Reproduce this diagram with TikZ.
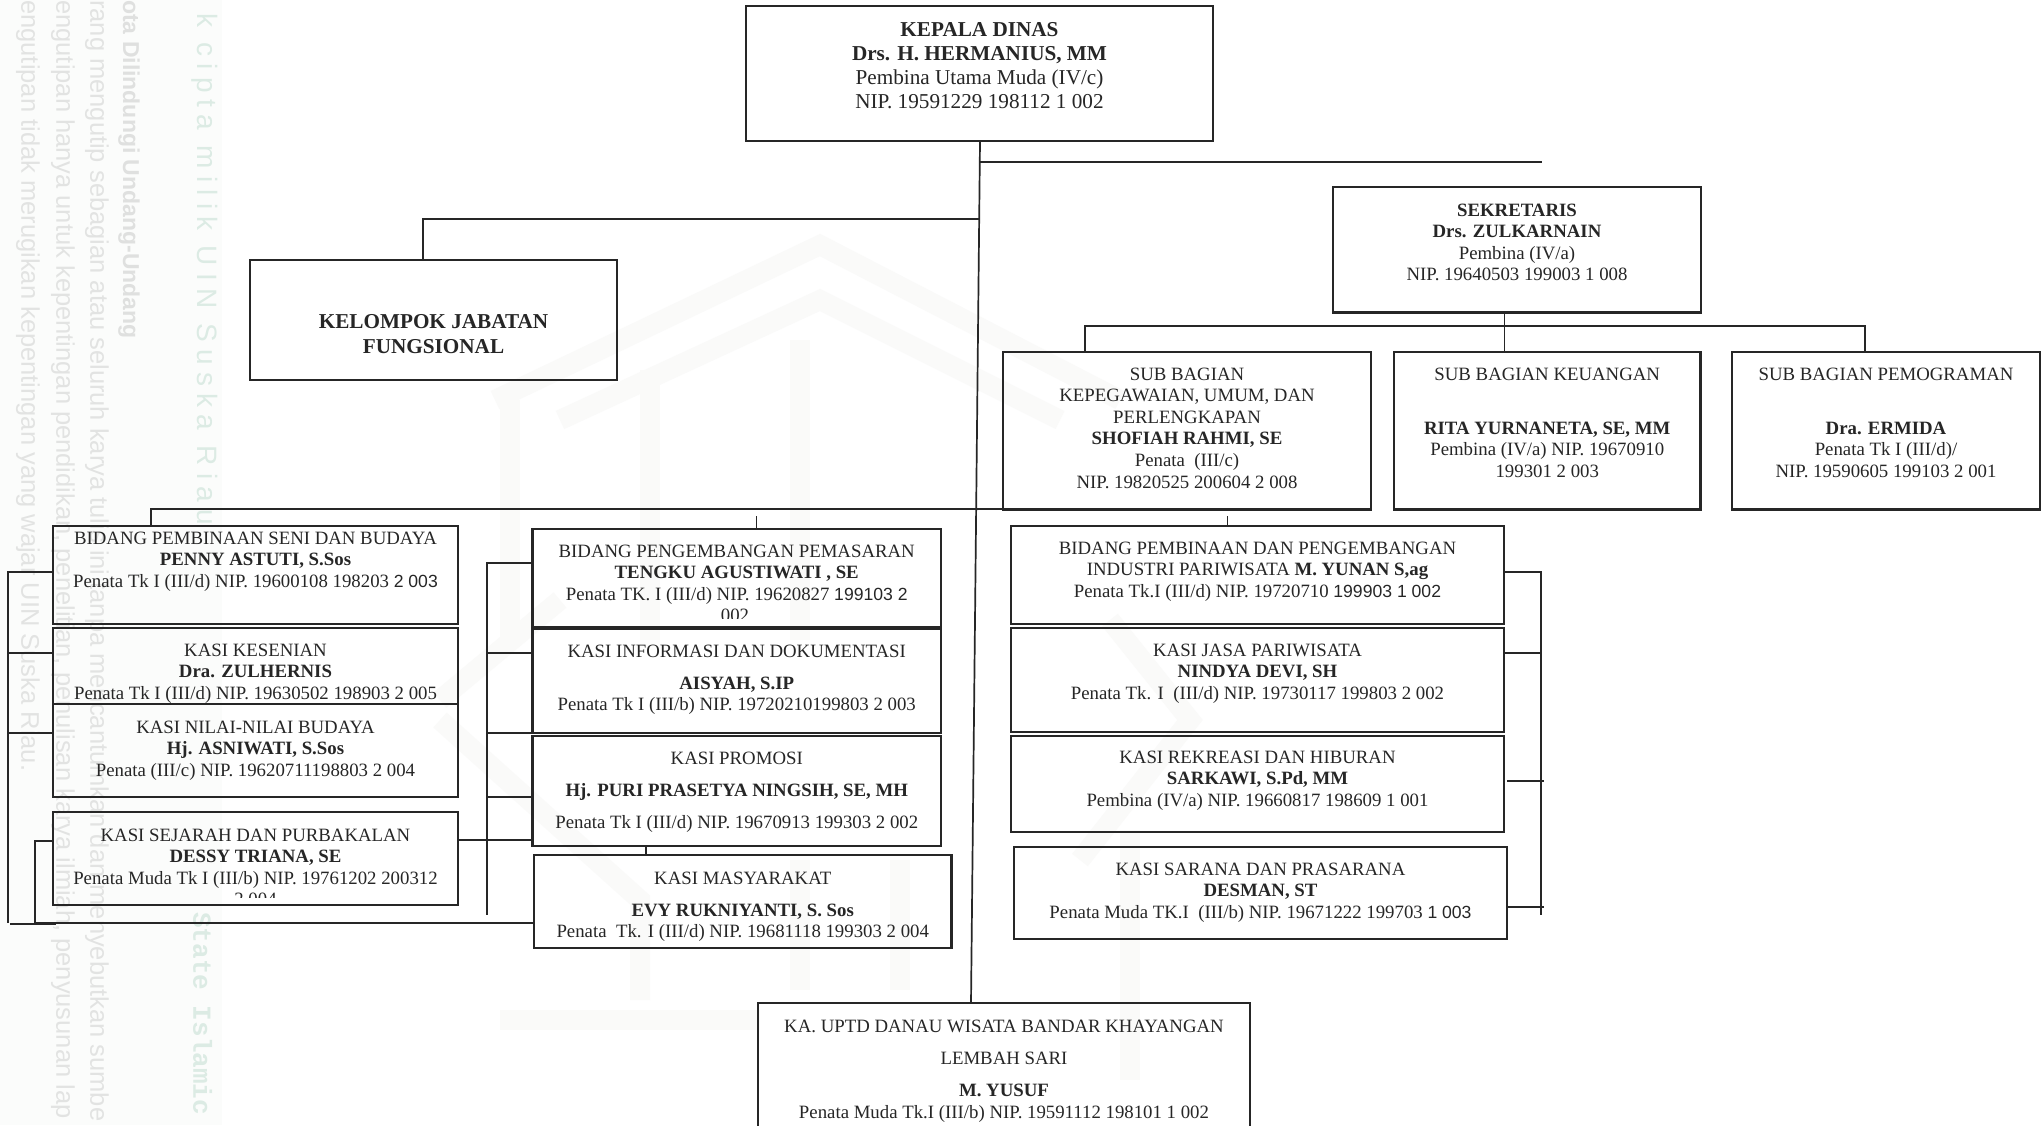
\documentclass[tikz,border=0pt]{standalone}
\usepackage{fontspec}
\setmainfont{Liberation Serif}
\newfontfamily\arn{Liberation Sans}
\newfontfamily\ar{Liberation Sans}
\newfontfamily\arls[LetterSpace=26]{Liberation Sans}
\newfontfamily\monols{Liberation Mono}
\definecolor{ink}{HTML}{262626}
\definecolor{wmg}{HTML}{E2E3E2}
\definecolor{wmb}{HTML}{DFE0DF}
\definecolor{wmt}{HTML}{DCEBE4}
\definecolor{strip}{HTML}{FBFCFB}
\definecolor{logo}{HTML}{FAFAF9}
\newcommand{\Ar}[1]{\begingroup\fontsize{17.6}{21.5}\arn #1\endgroup}
\tikzset{
  orgbox/.style={draw=ink,line width=2.1pt,fill=none,inner sep=0pt,outer sep=0pt,anchor=north west,text=ink},
  link/.style={draw=ink,line width=1.7pt},
  fatlink/.style={draw=ink,line width=2.6pt},
  wm/.style={rotate=-90,anchor=south west,inner sep=0pt,text=wmg},
}
% name x1 y1 x2 y2 baseline-of-first-line font-size linespacing text
\newcommand{\bx}[9]{%
  \pgfmathsetlengthmacro{\bxw}{(#4-#2)*1pt}%
  \pgfmathsetlengthmacro{\bxh}{(#5-#3)*1pt}%
  \pgfmathsetlengthmacro{\bxp}{(#6-#3-14)*1pt}%
  \node[orgbox,minimum width=\bxw,minimum height=\bxh] (#1) at (#2,#3)
    {\parbox[t][\bxh][t]{\bxw}{\fontsize{#7}{#8}\selectfont\vspace*{\bxp}\centering\rule{0pt}{14pt}#9\par}};}
\begin{document}
\begin{tikzpicture}[x=1pt,y=-1pt]
\useasboundingbox (0,0) rectangle (2042,1125);
\fill[white] (0,0) rectangle (2042,1125);
\fill[strip] (0,0) rectangle (222,1125);
% faint logo
\begin{scope}[line width=20pt,draw=logo,line join=miter]
\draw (495,400) -- (820,245) -- (1120,400);
\draw (560,420) -- (820,300) -- (1060,420);
\draw (510,400) -- (510,640);
\draw (650,370) -- (650,640);
\draw (800,340) -- (800,640);
\draw (440,700) -- (560,600);
\draw (440,720) -- (640,900) -- (640,1000);
\draw (1110,620) -- (1190,720) -- (1080,860);
\draw (800,860) -- (800,990);
\draw (900,860) -- (900,990);
\draw (1130,830) -- (1130,1080);
\draw (500,1020) -- (760,1020);
\end{scope}
% watermark
\node[wm,font=\ar\fontsize{25.5}{27}\selectfont] (wa) at (16,0) {engutipan tidak merugikan kepentingan yang wajar UIN Suska Riau.};
\node[wm,font=\ar\fontsize{25.5}{27}\selectfont] (wb) at (51,0) {engutipan hanya untuk kepentingan pendidikan, penelitian, penulisan karya ilmiah, penyusunan lap};
\node[wm,font=\ar\fontsize{25.5}{27}\selectfont] (wc) at (85,0) {rang mengutip sebagian atau seluruh karya tulis ini tanpa mencantumkan dan menyebutkan sumbe};
\node[wm,font=\ar\bfseries\fontsize{23}{25}\selectfont,text=wmb] (wd) at (118,0) {ota Dilindungi Undang-Undang};
\node[wm,font=\arls\fontsize{28}{30}\selectfont,text=wmt] (we) at (191,13) {k cipta milik UIN Suska Riau};
\node[wm,font=\monols\bfseries\fontsize{26}{30}\selectfont,text=wmt] (wf) at (193,912) {State Islamic};
% boxes
\bx{kepala}{746}{6}{1213}{141}{36}{21.2}{24.3}{\textbf{KEPALA DINAS}\\\textbf{Drs. H. HERMANIUS, MM}\\Pembina Utama Muda (IV/c)\\NIP. 19591229 198112 1 002}
\bx{sekre}{1333}{187}{1701}{312.5}{216}{18.8}{21.6}{\textbf{SEKRETARIS}\\\textbf{Drs. ZULKARNAIN}\\Pembina (IV/a)\\NIP. 19640503 199003 1 008}
\bx{fung}{250}{260}{617}{380}{328}{21.2}{25}{\textbf{KELOMPOK JABATAN}\\\textbf{FUNGSIONAL}}
\bx{kepeg}{1003}{352}{1371}{509.5}{380}{18.8}{21.6}{SUB BAGIAN\\KEPEGAWAIAN, UMUM, DAN\\PERLENGKAPAN\\\textbf{SHOFIAH RAHMI, SE}\\Penata~ (III/c)\\NIP. 19820525 200604 2 008}
\bx{keu}{1394}{352}{1700.5}{509.5}{380}{18.8}{21.6}{SUB BAGIAN KEUANGAN\\[32.4pt]\textbf{RITA YURNANETA, SE, MM}\\Pembina (IV/a) NIP. 19670910\\199301 2 003}
\bx{pem}{1732}{352}{2040}{509.5}{380}{18.8}{21.6}{SUB BAGIAN PEMOGRAMAN\\[32.4pt]\textbf{Dra. ERMIDA}\\Penata Tk I (III/d)/\\NIP. 19590605 199103 2 001}
\bx{ba}{53}{526}{458}{624}{544}{18.8}{21.5}{BIDANG PEMBINAAN SENI DAN BUDAYA\\\textbf{PENNY ASTUTI, S.Sos}\\Penata Tk I (III/d) NIP. 19600108 198203 \Ar{2 003}}
\bx{bb}{53}{628}{458}{704}{656}{18.8}{21.5}{KASI KESENIAN\\\textbf{Dra. ZULHERNIS}\\Penata Tk I (III/d) NIP. 19630502 198903 2 005}
\bx{bc}{53}{704}{458}{797}{733}{18.8}{21.5}{KASI NILAI-NILAI BUDAYA\\\textbf{Hj. ASNIWATI, S.Sos}\\Penata (III/c) NIP. 19620711198803 2 004}
\bx{bd}{53}{812}{458}{905}{841}{18.8}{21.5}{KASI SEJARAH DAN PURBAKALAN\\\textbf{DESSY TRIANA, SE}\\Penata Muda Tk I (III/b) NIP. 19761202 200312}
\bx{ma}{532.5}{529}{941}{627}{557}{18.8}{21.5}{BIDANG PENGEMBANGAN PEMASARAN\\\textbf{TENGKU AGUSTIWATI , SE}\\Penata TK. I (III/d) NIP. 19620827 \Ar{199103 2}}
\bx{mb}{532.5}{629}{941}{733}{657}{18.8}{21.5}{KASI INFORMASI DAN DOKUMENTASI\\[10.5pt]\textbf{AISYAH, S.IP}\\Penata Tk I (III/b) NIP. 19720210199803 2 003}
\bx{mc}{532.5}{736}{941}{846}{764}{18.8}{21.5}{KASI PROMOSI\\[10.5pt]\textbf{Hj. PURI PRASETYA NINGSIH, SE, MH}\\[10.5pt]Penata Tk I (III/d) NIP. 19670913 199303 2 002}
\bx{md}{534}{855}{951.5}{948}{884}{18.8}{21.5}{KASI MASYARAKAT\\[10.5pt]\textbf{EVY RUKNIYANTI, S. Sos}\\Penata~ Tk. I (III/d) NIP. 19681118 199303 2 004}
\bx{ra}{1011}{526}{1504}{624}{554}{18.8}{21.5}{BIDANG PEMBINAAN DAN PENGEMBANGAN\\INDUSTRI PARIWISATA \textbf{M. YUNAN S,ag}\\Penata Tk.I (III/d) NIP. 19720710 \Ar{199903 1 002}}
\bx{rb}{1011}{628}{1504}{732}{656}{18.8}{21.5}{KASI JASA PARIWISATA\\\textbf{NINDYA DEVI, SH}\\Penata Tk. I~ (III/d) NIP. 19730117 199803 2 002}
\bx{rc}{1011}{736}{1504}{832}{763}{18.8}{21.5}{KASI REKREASI DAN HIBURAN\\\textbf{SARKAWI, S.Pd, MM}\\Pembina (IV/a) NIP. 19660817 198609 1 001}
\bx{rd}{1014}{847}{1507}{939}{875}{18.8}{21.5}{KASI SARANA DAN PRASARANA\\\textbf{DESMAN, ST}\\Penata Muda TK.I~ (III/b) NIP. 19671222 199703 \Ar{1 003}}
\bx{uptd}{758}{1003}{1250}{1135}{1032}{18.8}{32}{KA. UPTD DANAU WISATA BANDAR KHAYANGAN\\LEMBAH SARI\\\textbf{M. YUSUF}\\[-10pt]Penata Muda Tk.I (III/b) NIP. 19591112 198101 1 002}
% clipped last lines
\begin{scope}
\clip (53,885) rectangle (458,897);
\node[inner sep=0pt,anchor=base,text=ink,font=\fontsize{18.8}{21.5}\selectfont] (bdx) at (255.5,905) {2 004};
\end{scope}
\begin{scope}
\clip (533,600) rectangle (941,618);
\node[inner sep=0pt,anchor=base,text=ink,font=\fontsize{18.8}{21.5}\selectfont] (max) at (735,621) {002};
\end{scope}
% coordinates
\coordinate (topA) at (980,141);
\coordinate (mainB) at (971,1003);
\coordinate (j1) at (980,162);
\coordinate (j1e) at (1542,162);
\coordinate (j2) at (979.5,219);
\coordinate (j2e) at (423,219);
% main connectors
\draw[link] (topA) -- (mainB);
\draw[link] (j1) -- (j1e);
\draw[link] (j2) -- (j2e) -- (j2e |- fung.north);
\draw[link] (1504.5,312.5) -- (1504.5,352);
\draw[link] (1085,352) -- (1085,326) -- (1865,326) -- (1865,352);
% bidang bus
\draw[link] (151,526) -- (151,509) -- (1003,509);
\draw[link,line width=1pt] (756,516) -- (756,529);
\draw[link,line width=1pt] (1227,516) -- (1227,526);
% left bracket
\draw[link] (53,572) -- (8,572) -- (8,923);
\draw[link] (8,653) -- (53,653);
\draw[link] (8,733) -- (53,733);
\draw[link] (10,924) -- (56,924);
\draw[fatlink] (53,841) -- (35,841) -- (35,923) -- (md.west |- 0,923);
% middle bracket
\draw[link] (532.5,563) -- (487,563) -- (487,915);
\draw[link] (487,653) -- (532.5,653);
\draw[link] (487,733) -- (532.5,733);
\draw[link] (487,797) -- (532.5,797);
\draw[fatlink] (458,840) -- (532.5,840);
\draw[fatlink] (646,846) -- (646,855);
% right bracket
\draw[link] (1504,572) -- (1541,572) -- (1541,915);
\draw[link] (1504,653) -- (1541,653);
\draw[fatlink] (1507,781) -- (1544,781);
\draw[fatlink] (1507,907) -- (1544,907);
\end{tikzpicture}
\end{document}
